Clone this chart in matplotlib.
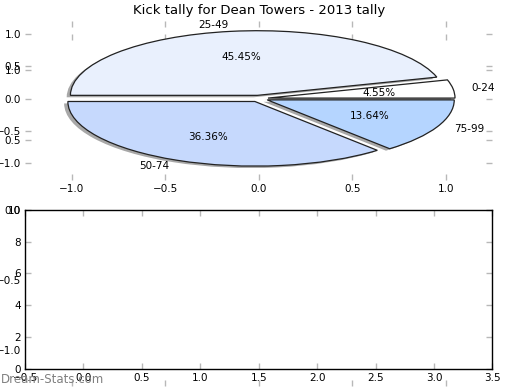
import matplotlib.pyplot as plt
from matplotlib.patches import Wedge

# data
labels = ['0-24', '25-49', '50-74', '75-99']
kicks = [1, 10, 8, 3]
colors = ['#ffffff', '#e9f0fd', '#c6d9fd', '#b5d5ff']
explode = [0.05, 0.05, 0.05, 0.05]
pie_ticks = [-1.0, -0.5, 0.0, 0.5, 1.0]
bar_xticks = [-0.5, 0.0, 0.5, 1.0, 1.5, 2.0, 2.5, 3.0, 3.5]
bar_yticks = [0, 2, 4, 6, 8, 10]

plt.rcParams['font.size'] = 7.5
plt.rcParams['xtick.labelsize'] = 7.5
plt.rcParams['ytick.labelsize'] = 7.5

fig = plt.figure(figsize=(5.2, 3.9), dpi=100)


def style(ax):
    ax.tick_params(direction='in', color='#b8b8b8', length=4, width=1,
                   top=True, right=True, pad=3)


# empty background axes (left over from a default subplot)
ax_bg = fig.add_axes([0.0481, 0.0092, 0.899, 0.9046])
ax_bg.set_frame_on(False)
ax_bg.set_xlim(-1.25, 1.25)
ax_bg.set_ylim(-1.26, 1.26)
ax_bg.set_xticks(pie_ticks)
ax_bg.set_yticks(pie_ticks)
style(ax_bg)

# pie axes
ax_pie = fig.add_axes([0.0481, 0.5385, 0.899, 0.4077])
wedges, texts, autotexts = ax_pie.pie(
    kicks, labels=labels, colors=colors, explode=explode,
    autopct='%1.2f%%', frame=True,
    wedgeprops=dict(edgecolor='#222222', linewidth=0.9))
for w in wedges:
    sh = Wedge((w.center[0] - 0.02, w.center[1] - 0.03), w.r, w.theta1, w.theta2,
               facecolor='#6e6e6e', edgecolor='none', alpha=0.6,
               zorder=w.get_zorder() * 0.9)
    ax_pie.add_patch(sh)
ax_pie.set_aspect('auto')
ax_pie.set_frame_on(False)
ax_pie.set_xlim(-1.25, 1.25)
ax_pie.set_ylim(-1.26, 1.20)
ax_pie.set_xticks(pie_ticks)
ax_pie.set_yticks(pie_ticks)
style(ax_pie)
ax_pie.set_title('Kick tally for Dean Towers - 2013 tally', fontsize=9.5, pad=5)

# empty lower axes
ax_bar = fig.add_axes([0.0481, 0.0551, 0.899, 0.4064])
ax_bar.set_xlim(-0.5, 3.5)
ax_bar.set_ylim(0, 10)
ax_bar.set_xticks(bar_xticks)
ax_bar.set_yticks(bar_yticks)
style(ax_bar)
for s in ax_bar.spines.values():
    s.set_linewidth(1)

fig.text(0.002, 0.026, 'Dream-Stats.com', color='#808080', fontsize=8.5,
         va='center', ha='left')

fig.savefig('out.png', dpi=100)
